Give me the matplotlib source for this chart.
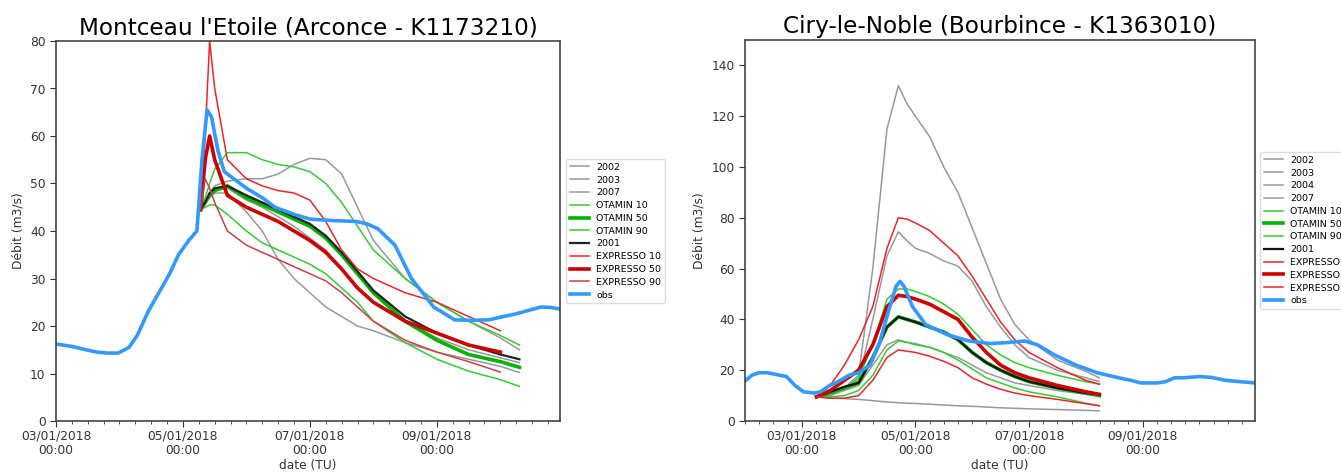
import matplotlib
matplotlib.use("Agg")
import matplotlib.pyplot as plt
import matplotlib.dates as mdates
import numpy as np
from datetime import datetime, timedelta

# ---------------- Montceau l'Etoile (Arconce) ----------------
# times in days after 03/01/2018 00:00
M_OBS_T = [0, 0.25, 0.47, 0.65, 0.81, 0.98, 1.15, 1.28, 1.45, 1.62, 1.79, 1.93, 2.09, 2.22,
           2.3, 2.38, 2.45, 2.55, 2.65, 2.8, 3.0, 3.25, 3.45, 3.75, 4.0, 4.35, 4.73, 4.9, 5.07,
           5.34, 5.6, 5.95, 6.28, 6.55, 6.82, 7.05, 7.23, 7.45, 7.64, 7.8, 7.97]
M_OBS = [16.2, 15.7, 15.0, 14.5, 14.3, 14.3, 15.5, 18, 23, 27, 31, 35, 38, 40,
         55, 65.5, 64, 57, 52.5, 51, 49, 47, 45, 43.5, 42.5, 42.2, 42, 41.5, 40.5,
         37, 30, 24, 21.3, 21.2, 21.3, 22, 22.5, 23.3, 24, 23.9, 23.5]

M_T = [2.28, 2.35, 2.42, 2.5, 2.7, 3.0, 3.25, 3.5, 3.75, 4.0, 4.25, 4.5, 4.75, 5.0,
       5.5, 6.0, 6.5, 7.0, 7.3]
nan = np.nan
M_2002 = [44.5, 46, 48, 49.5, 50.5, 51, 51, 52, 54, 55.3, 55, 52, 45, 38, 30, 25, 21, 17.5, 15]
M_2003 = [44.5, 46, 47, 48, 48, 44, 40, 34, 30, 27, 24, 22, 20, 19, 16.5, 14.5, 13, 11.5, 10.2]
M_2007 = [44.5, 46, 47.5, 48.5, 49, 46.5, 45, 43, 41, 38.5, 36, 32, 28, 25, 21, 17.5, 15, 13.3, 12.3]
M_OT10 = [44.5, 47, 50, 53, 56.5, 56.5, 55, 54, 53.5, 52.5, 50, 46, 41, 36, 30, 25, 21, 18, 16]
M_OT50 = [44.5, 46, 47.5, 48.5, 49.5, 47, 45.5, 44, 42.5, 41, 38.5, 35, 31, 27, 21, 17, 14, 12.5, 11.3]
M_OT90 = [44.5, 45, 45.5, 45.5, 43.5, 40, 37.5, 36, 34.5, 33, 31, 28, 25, 21, 16.5, 13, 10.5, 8.7, 7.3]
M_2001 = [44.5, 46, 48, 49, 49.5, 47.5, 46, 44.5, 43, 41.5, 39, 35.5, 31.5, 27.5, 22, 18.5, 16, 14, 13]
M_EX10 = [44.5, 60, 80, 70, 55, 51, 49.5, 48.5, 48, 46.5, 42, 36, 32, 30, 27, 25, 22, 19, nan]
M_EX50 = [44.5, 55, 60, 55, 47.5, 45, 43.5, 42, 40, 38, 35.5, 32, 28, 25, 21, 18.5, 16, 14.5, nan]
M_EX90 = [44.5, 51, 49, 46, 40, 37, 35.5, 34, 32.5, 31, 29.5, 27, 24, 21, 17, 14.5, 12.5, 10.3, nan]

# ---------------- Ciry-le-Noble (Bourbince) ----------------
# times in days after 02/01/2018 00:00
C_OBS_T = [0, 0.12, 0.24, 0.39, 0.62, 0.73, 0.88, 1.03, 1.22, 1.33, 1.49, 1.64, 1.83, 2.0,
           2.2, 2.36, 2.51, 2.66, 2.73, 2.8, 2.95, 3.18, 3.56, 3.94, 4.32, 4.7, 4.92, 5.15,
           5.45, 5.83, 6.2, 6.58, 6.8, 6.96, 7.1, 7.26, 7.41, 7.56, 7.72, 8.0, 8.2, 8.47, 8.7, 8.98]
C_OBS = [15.7, 18, 19, 19, 18, 17.5, 14, 11.5, 11, 11.5, 14, 15.5, 18, 19,
         22, 30, 42, 53, 55, 53, 45, 38, 34, 31.5, 30.5, 31, 31.5, 30,
         26, 22, 19, 17, 16, 15, 15, 15, 15.5, 17, 17, 17.5, 17.2, 16, 15.5, 15]

C_T = [1.26, 1.5, 1.75, 2.0, 2.25, 2.5, 2.7, 2.85, 3.0, 3.25, 3.5, 3.75, 4.0, 4.25,
       4.5, 4.75, 5.0, 5.5, 6.0, 6.24]
C_2002 = [9.5, 11, 13, 18, 60, 115, 132, 125, 120, 112, 100, 90, 76, 62, 48, 38, 32, 24, 19.5, 17]
C_2003 = [9.5, 11, 13, 16, 40, 65, 74.5, 71, 68, 66, 63, 61, 55, 45, 37, 30, 25, 20, 17, 15.5]
C_2004 = [9.5, 10, 12, 14, 22, 30, 32, 31, 30.5, 29, 27, 25, 22, 19, 17, 15, 14, 12, 10.5, 10]
C_2007 = [9.5, 9, 8.8, 8.5, 8, 7.5, 7.2, 7, 6.9, 6.6, 6.3, 6, 5.8, 5.5, 5.2, 5, 4.8, 4.5, 4.2, 4]
C_OT10 = [9.5, 11, 13, 17, 30, 48, 52, 52, 51, 49, 46, 42, 36, 30, 26, 23, 21, 18, 15.5, 14.5]
C_OT50 = [9.5, 11, 13, 15, 25, 37, 41, 40, 39, 37, 35, 32, 27, 23, 20, 17.5, 15.5, 13, 11, 10]
C_OT90 = [9.5, 9.5, 10, 12, 18, 28, 31.5, 31, 30, 29, 27, 24, 20.5, 17, 15, 13, 11.5, 9.5, 7, 6]
C_2001 = [9.5, 11.5, 13.5, 15, 25, 37, 41, 40, 39, 37, 35, 32, 27, 23, 20, 17.5, 15.5, 13, 11, 10.5]
C_EX10 = [9.5, 14, 22, 32, 45, 68, 80, 79.5, 78, 75, 70, 65, 57, 48, 39, 32, 27, 21, 16, 14.5]
C_EX50 = [9.5, 12, 16, 20, 30, 45, 49.5, 49, 48, 46, 43, 40, 33, 27, 22, 19, 17, 14, 11.5, 10.5]
C_EX90 = [9.5, 9, 9, 10, 16, 25, 28, 27.5, 27, 25.5, 23.5, 21, 17, 14.5, 12.5, 11, 10, 8.5, 6.8, 6]

TICK_DATES = ["03/01/2018", "05/01/2018", "07/01/2018", "09/01/2018"]

GREY = "#999999"
GREEN = "#33cc33"
GREEN_THICK = "#00b300"
RED = "#e8262b"
RED_THICK = "#cc0000"
RED90 = "#cc3f4a"
BLUE = "#3399ff"


def to_dates(start, days):
    return [start + timedelta(days=d) for d in days]


def setup(ax, start, end, ymax, yticks):
    ax.set_xlim(start, end)
    ax.set_ylim(0, ymax)
    ax.set_yticks(yticks)
    ax.xaxis.set_major_locator(matplotlib.ticker.FixedLocator(
        [mdates.date2num(datetime.strptime(s, "%d/%m/%Y")) for s in TICK_DATES]))
    ax.xaxis.set_major_formatter(mdates.DateFormatter("%d/%m/%Y\n%H:%M"))
    ax.xaxis.set_minor_locator(mdates.HourLocator(byhour=[0, 6, 12, 18]))
    ax.tick_params(axis="both", which="major", labelsize=8.8, colors="#333333", length=4)
    ax.tick_params(axis="x", which="major", pad=2)
    ax.tick_params(axis="x", which="minor", length=2.5, colors="#333333")
    ax.set_xlabel("date (TU)", fontsize=8.8, color="#333333", labelpad=1)
    ax.set_ylabel("Débit (m3/s)", fontsize=8.8, color="#333333")
    for s in ax.spines.values():
        s.set_color("#444444")
        s.set_linewidth(1.2)


fig = plt.figure(figsize=(13.41, 4.73), dpi=100)

# ---- left panel ----
ax1 = fig.add_axes([56 / 1341, 52 / 473, 504 / 1341, 380 / 473])
t0 = datetime(2018, 1, 3)
tm = to_dates(t0, M_T)
ax1.plot(tm, M_2002, color=GREY, lw=1.1, label="2002")
ax1.plot(tm, M_2003, color=GREY, lw=1.1, label="2003")
ax1.plot(tm, M_2007, color=GREY, lw=1.1, label="2007")
ax1.plot(tm, M_OT10, color=GREEN, lw=1.1, label="OTAMIN 10")
ax1.plot(tm, M_OT50, color=GREEN_THICK, lw=2.6, label="OTAMIN 50")
ax1.plot(tm, M_OT90, color=GREEN, lw=1.1, label="OTAMIN 90")
ax1.plot(tm, M_2001, color="#222222", lw=1.6, label="2001")
ax1.plot(tm, M_EX10, color=RED, lw=1.1, label="EXPRESSO 10")
ax1.plot(tm, M_EX50, color=RED_THICK, lw=2.6, label="EXPRESSO 50")
ax1.plot(tm, M_EX90, color=RED90, lw=1.1, label="EXPRESSO 90")
ax1.plot(to_dates(t0, M_OBS_T), M_OBS, color=BLUE, lw=2.6, label="obs")
setup(ax1, t0, t0 + timedelta(days=7.94), 80, range(0, 81, 10))
ax1.set_title("Montceau l'Etoile (Arconce - K1173210)", fontsize=16.7, pad=5)
ax1.legend(loc="upper left", bbox_to_anchor=(566 / 1341, 1 - 159 / 473),
           bbox_transform=fig.transFigure, borderaxespad=0, fontsize=6.8,
           handlelength=2.0, labelspacing=0.4, framealpha=1, edgecolor="#dddddd")

# ---- right panel ----
ax2 = fig.add_axes([745 / 1341, 52 / 473, 510 / 1341, 381 / 473])
c0 = datetime(2018, 1, 2)
tc = to_dates(c0, C_T)
ax2.plot(tc, C_2002, color=GREY, lw=1.1, label="2002")
ax2.plot(tc, C_2003, color=GREY, lw=1.1, label="2003")
ax2.plot(tc, C_2004, color=GREY, lw=1.1, label="2004")
ax2.plot(tc, C_2007, color=GREY, lw=1.1, label="2007")
ax2.plot(tc, C_OT10, color=GREEN, lw=1.1, label="OTAMIN 10")
ax2.plot(tc, C_OT50, color=GREEN_THICK, lw=2.6, label="OTAMIN 50")
ax2.plot(tc, C_OT90, color=GREEN, lw=1.1, label="OTAMIN 90")
ax2.plot(tc, C_2001, color="#111111", lw=1.6, label="2001")
ax2.plot(tc, C_EX10, color=RED, lw=1.1, label="EXPRESSO 10")
ax2.plot(tc, C_EX50, color=RED_THICK, lw=2.6, label="EXPRESSO 50")
ax2.plot(tc, C_EX90, color=RED, lw=1.1, label="EXPRESSO 90")
ax2.plot(to_dates(c0, C_OBS_T), C_OBS, color=BLUE, lw=2.6, label="obs")
setup(ax2, c0, c0 + timedelta(days=8.98), 150, range(0, 141, 20))
ax2.set_title("Ciry-le-Noble (Bourbince - K1363010)", fontsize=16.7, pad=5)
ax2.legend(loc="upper left", bbox_to_anchor=(1260 / 1341, 1 - 152 / 473),
           bbox_transform=fig.transFigure, borderaxespad=0, fontsize=6.8,
           handlelength=2.0, labelspacing=0.4, framealpha=1, edgecolor="#dddddd")

fig.savefig("out.png", dpi=100)
